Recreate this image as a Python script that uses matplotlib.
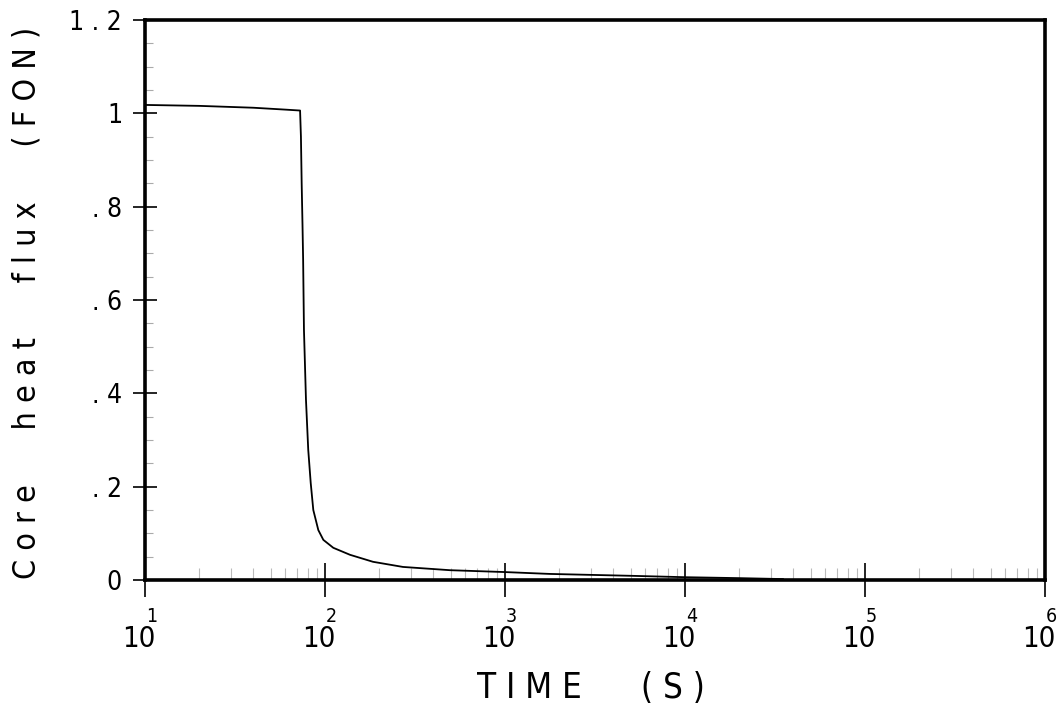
import matplotlib
matplotlib.use('Agg')
import matplotlib.pyplot as plt
import matplotlib.transforms as mtrans
import numpy as np

# data
time_s = [10, 20, 40, 60, 72.7, 73.5, 74.2, 75.0, 75.6, 76.4, 78.4, 80.7, 83.3,
          86.1, 91.8, 97.9, 111.2, 137.7, 184.8, 271, 495, 1000, 1778,
          5000, 10000, 20000, 35000]
heat_flux = [1.018, 1.016, 1.012, 1.008, 1.006, 0.95, 0.85, 0.76, 0.686, 0.536,
             0.386, 0.279, 0.208, 0.150, 0.107, 0.086, 0.069, 0.054, 0.039,
             0.028, 0.021, 0.017, 0.013, 0.009, 0.006, 0.004, 0.002]
y_ticks = [0, 0.2, 0.4, 0.6, 0.8, 1.0, 1.2]
y_labels = ['0', '. 2', '. 4', '. 6', '. 8', '1', '1 . 2']
x_exps = [1, 2, 3, 4, 5, 6]

plt.rcParams['font.family'] = ['DejaVu Sans']
plt.rcParams['font.stretch'] = 'condensed'

fig = plt.figure(figsize=(10.57, 7.17), dpi=100)
ax = fig.add_axes([145/1057, 137/717, 900/1057, 560/717])

ax.plot(time_s, heat_flux, color='black', lw=1.3)

ax.set_xscale('log')
ax.set_xlim(10, 1e6)
ax.set_ylim(0, 1.2)

for s in ax.spines.values():
    s.set_linewidth(2.6)

# y ticks cross the left axis
ax.set_yticks(y_ticks)
ax.set_yticklabels(y_labels, fontsize=19, fontstretch='condensed')
ax.tick_params(axis='y', which='major', direction='inout', length=17, width=1.2, pad=8)
ax.set_yticks(np.arange(0.05, 1.2, 0.05), minor=True)
ax.tick_params(axis='y', which='minor', direction='in', length=6, width=0.8, color='#aaaaaa')

# x ticks: manual labels 10 with exponent
ax.set_xticks([10.0**k for k in x_exps])
ax.set_xticklabels([])
ax.tick_params(axis='x', which='major', direction='inout', length=24, width=1.2)
minors = [m * 10.0**k for k in x_exps[:-1] for m in range(2, 10)]
ax.set_xticks(minors, minor=True)
ax.set_xticklabels([], minor=True)
ax.tick_params(axis='x', which='minor', direction='in', length=9, width=0.8, color='#bbbbbb')

tr = mtrans.blended_transform_factory(ax.transData, ax.transAxes)
tr_base = mtrans.offset_copy(tr, fig=fig, x=-6, y=0, units='dots')
tr_exp = mtrans.offset_copy(tr, fig=fig, x=1, y=0, units='dots')
for k in x_exps:
    ax.text(10.0**k, -0.08, '10', transform=tr_base, ha='center', va='top',
            fontsize=21, fontstretch='condensed')
    ax.text(10.0**k, -0.048, str(k), transform=tr_exp, ha='left', va='top',
            fontsize=14, fontstretch='condensed')

fig.text(591/1057, 1 - 688/717, 'T I M E      ( S )', ha='center', va='center',
         fontsize=25, fontstretch='condensed')
fig.text(27/1057, 1 - 303/717,
         'C o r e      h e a t      f l u x      ( F O N )',
         ha='center', va='center', rotation=90, fontsize=23, fontstretch='condensed')

fig.savefig('out.png', dpi=100, facecolor='white')
